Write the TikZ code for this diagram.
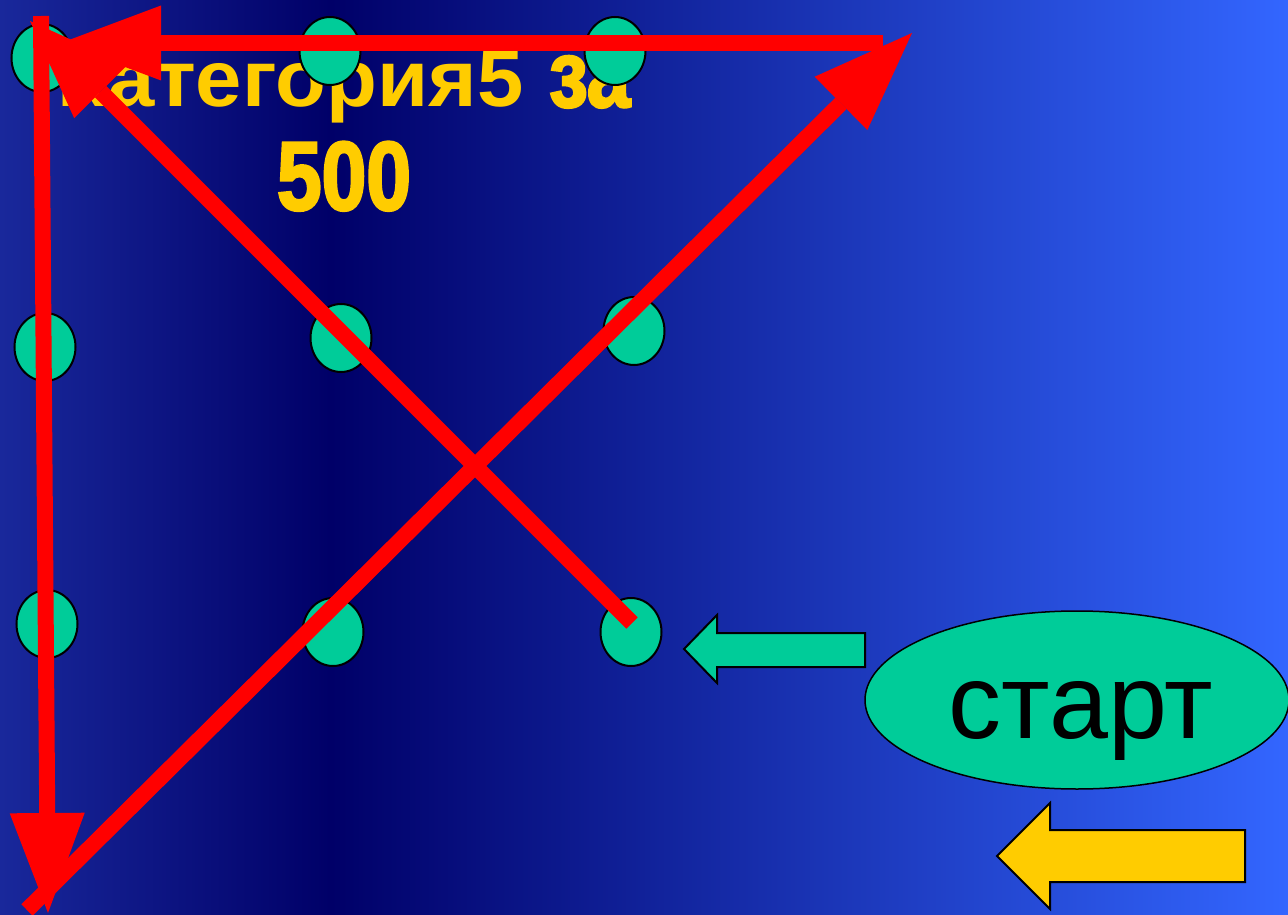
\documentclass[tikz,border=0pt]{standalone}
\usepackage{fontspec}
\setmainfont{Liberation Sans}
\newfontfamily\titlefont[FakeStretch=1.04]{Liberation Sans Bold}
\newfontfamily\impfont[FakeStretch=0.82,FakeBold=2.5]{Liberation Sans Bold}
\usetikzlibrary{arrows.meta,shapes.geometric}
\definecolor{bgL}{RGB}{25,40,155}
\definecolor{bgD}{RGB}{0,0,104}
\definecolor{bgR}{RGB}{51,102,255}
\definecolor{dotgreen}{RGB}{0,204,153}
\definecolor{titleyellow}{RGB}{255,204,0}
\definecolor{arrowred}{RGB}{255,0,0}
\begin{document}
\begin{tikzpicture}[x=1pt,y=-1pt,
  dot/.style={ellipse,draw=black,line width=2pt,fill=dotgreen,minimum width=61pt,minimum height=68pt,inner sep=0pt},
  redarrow/.style={draw=arrowred,line width=16pt,-{Triangle[length=100pt,width=75pt,line width=0pt]}},
  titletext/.style={text=titleyellow,inner sep=0pt},
  blockarrow/.style={draw=black,line width=2pt,line join=miter}
]
\useasboundingbox (0,0) rectangle (1288,915);
% background
\shade[left color=bgL,right color=bgD] (0,0) rectangle (330.5,915);
\shade[left color=bgD,right color=bgR] (330,0) rectangle (1288,915);
% title
\node[titletext,anchor=base west,font=\titlefont\fontsize{80}{90}\selectfont] (t1) at (57,107) {Категория5};
\node[titletext,anchor=base west,font=\impfont\fontsize{95}{100}\selectfont] (t2) at (549,107) {за};
\node[titletext,anchor=base,font=\impfont\fontsize{98}{100}\selectfont] (t3) at (344,210) {500};
% dots
\node[dot] (d11) at (42,58) {};
\node[dot] (d12) at (330,51) {};
\node[dot] (d13) at (615,51) {};
\node[dot] (d21) at (45,347) {};
\node[dot] (d22) at (341,338) {};
\node[dot] (d23) at (634,331) {};
\node[dot] (d31) at (47,624) {};
\node[dot] (d32) at (333,632) {};
\node[dot] (d33) at (631,632) {};
% red arrow end points
\coordinate (a1s) at (41,16);
\coordinate (a1e) at (48,913);
\coordinate (a2s) at (883,43);
\coordinate (a2e) at (61,43);
\coordinate (a3s) at (632,623);
\coordinate (a3e) at (30,21);
\coordinate (a4s) at (27,910);
\coordinate (a4e) at (912,33);
\draw[redarrow] (a1s) -- (a1e);
\draw[redarrow] (a2s) -- (a2e);
\draw[redarrow] (a3s) -- (a3e);
\draw[redarrow] (a4s) -- (a4e);
% green block arrow
\draw[blockarrow,fill=dotgreen] (684,649) -- (717,615) -- (717,633) -- (865,633) -- (865,667) -- (717,667) -- (717,683) -- cycle;
% start ellipse
\node[ellipse,draw=black,line width=1.5pt,fill=dotgreen,minimum width=424pt,minimum height=178pt,inner sep=0pt] (start) at (1077,700) {};
\node[anchor=base,inner sep=0pt,font=\fontsize{106}{120}\selectfont] (starttext) at (1081,738) {старт};
% yellow block arrow
\draw[blockarrow,fill=titleyellow] (997,856) -- (1050,803) -- (1050,830) -- (1245,830) -- (1245,882) -- (1050,882) -- (1050,909) -- cycle;
\end{tikzpicture}
\end{document}
